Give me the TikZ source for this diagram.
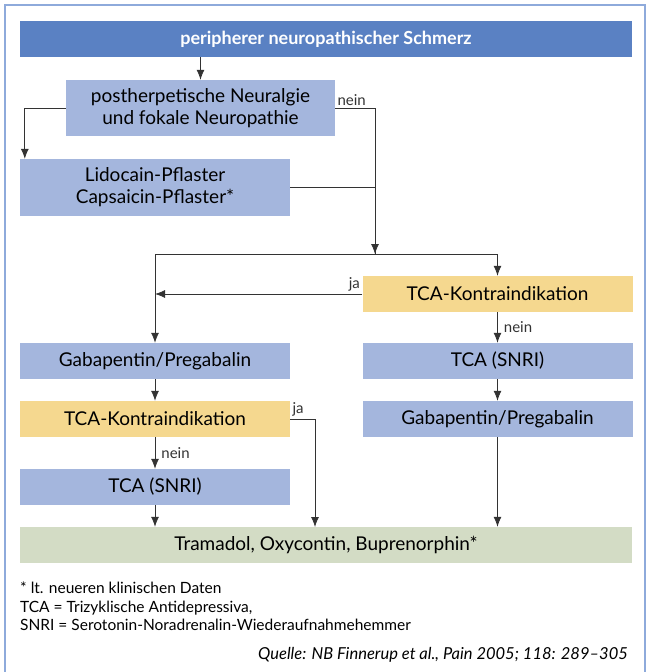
\documentclass[tikz,border=0pt]{standalone}
\usepackage{fontspec}
\setmainfont{Lato}
\usepackage{tikz}
\usetikzlibrary{arrows.meta,calc}

\definecolor{framecol}{HTML}{8EAADB}
\definecolor{headblue}{HTML}{5A81C3}
\definecolor{boxblue}{HTML}{A4B6DD}
\definecolor{warnyellow}{HTML}{F5D88F}
\definecolor{endgreen}{HTML}{D3DCC5}

\tikzset{
  box/.style={fill=boxblue, minimum width=270pt, minimum height=36pt, inner sep=0pt,
    align=center, font=\fontsize{19}{22}\selectfont},
  warnbox/.style={box, fill=warnyellow},
  headbox/.style={box, fill=headblue, minimum width=612pt, text=white,
    font=\fontsize{18}{21}\selectfont\bfseries},
  endbox/.style={box, fill=endgreen, minimum width=612pt},
  arr/.style={-{Latex[length=10pt,width=8pt]}, line width=0.8pt, black!80},
  lbl/.style={font=\fontsize{15}{17}\selectfont, inner sep=2pt},
  note/.style={font=\fontsize{15.5}{18.5}\selectfont, inner sep=0pt}
}

\begin{document}
\begin{tikzpicture}[x=1pt, y=-1pt]
\useasboundingbox (0,0) rectangle (649,672);
% Drawing frame
\draw[framecol, line width=1.5pt] (5,675) -- (5,5) -- (645,5) -- (645,675);

% Drawing boxes
\node[headbox] (head) at (326,39) {peripherer neuropathischer Schmerz};
\node[box, minimum width=269pt, minimum height=56pt] (phn) at (200.5,108) {postherpetische Neuralgie\\und fokale Neuropathie};
\node[box, minimum height=57pt] (patch) at (155,187.5) {Lidocain-Pflaster\\Capsaicin-Pflaster*};
\node[warnbox] (kiR) at (497.5,294) {TCA-Kontraindikation};
\node[box] (gabaL) at (155,361) {Gabapentin/Pregabalin};
\node[box] (tcaR) at (497.5,361) {TCA (SNRI)};
\node[warnbox] (kiL) at (155,419) {TCA-Kontraindikation};
\node[box] (gabaR) at (497.5,419) {Gabapentin/Pregabalin};
\node[box] (tcaL) at (155,487) {TCA (SNRI)};
\node[endbox] (opioid) at (326,545) {Tramadol, Oxycontin, Buprenorphin*};

% Drawing connectors
\coordinate (split) at (375,254);
\coordinate (jaL) at (315,527);
\draw[arr] (head.south -| phn.north) -- (phn.north);
\draw[arr] (phn.west) -| ($(patch.north west)+(5,0)$);
\draw[arr] (phn.east) node[lbl, above right] {nein} -| (split);
\draw[arr, -] (patch.east) -| (split);
\draw[arr] (split) -| (gabaL.north);
\draw[arr] (split) -| (kiR.north);
\draw[arr] (kiR.west) node[lbl, above left] {ja} -- (kiR.west -| gabaL.north);
\draw[arr] (kiR.south) -- node[lbl, right=4pt] {nein} (tcaR.north);
\draw[arr] (gabaL.south) -- (kiL.north);
\draw[arr] (kiL.south) -- node[lbl, right=4pt] {nein} (tcaL.north);
\draw[arr] (kiL.east) node[lbl, above right] {ja} -| (jaL);
\draw[arr] (tcaL.south) -- (tcaL.south |- opioid.north);
\draw[arr] (tcaR.south) -- (gabaR.north);
\draw[arr] (gabaR.south) -- (gabaR.south |- opioid.north);

% Drawing notes
\node[note, anchor=north west, align=left] (notes) at (20,582) {* lt. neueren klinischen Daten\\TCA = Trizyklische Antidepressiva,\\SNRI = Serotonin-Noradrenalin-Wiederaufnahmehemmer};
\node[note, anchor=east, font=\fontsize{16.5}{18}\selectfont\itshape] (source) at (628,655) {Quelle: NB Finnerup et al., Pain 2005; 118: 289–305};
\end{tikzpicture}
\end{document}
